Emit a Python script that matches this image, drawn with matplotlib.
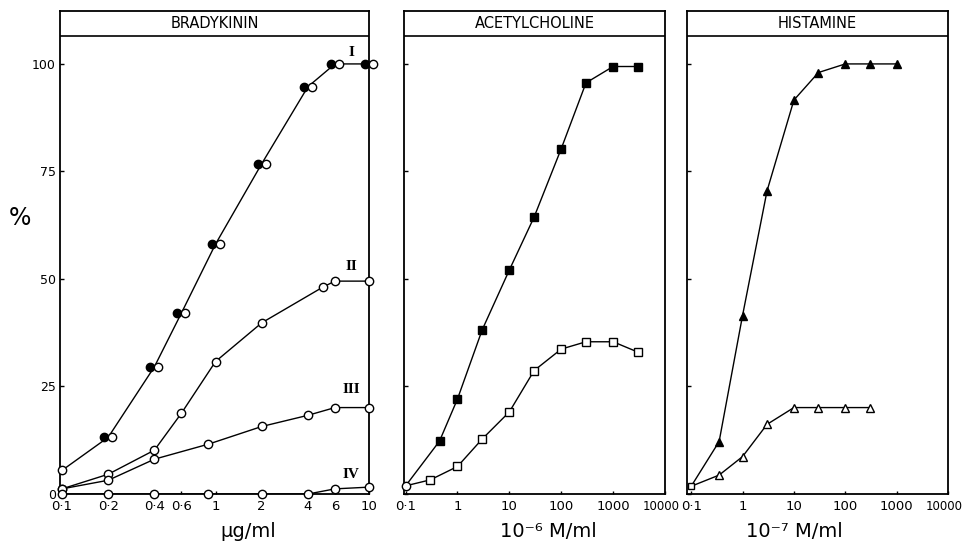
import numpy as np
import matplotlib
matplotlib.use("Agg")
import matplotlib.pyplot as plt
from matplotlib.transforms import offset_copy, ScaledTranslation

plt.rcParams['font.family'] = ['Liberation Sans Narrow', 'DejaVu Sans']

# ---- data ----
# bradykinin, ug/ml
brady_I_x = [0.1, 0.2, 0.4, 0.6, 1, 2, 4, 6, 10]
brady_I_y = [5.5, 13.2, 29.6, 42.1, 58.1, 76.8, 94.7, 100, 100]
brady_II_x = [0.1, 0.2, 0.4, 0.6, 1, 2, 5, 6, 10]
brady_II_y = [1.2, 4.6, 10.2, 18.8, 30.8, 39.8, 48.1, 49.5, 49.5]
brady_III_x = [0.1, 0.2, 0.4, 0.9, 2, 4, 6, 10]
brady_III_y = [1.2, 3.2, 8.1, 11.6, 15.7, 18.3, 20.1, 20.1]
brady_IV_x = [0.1, 0.2, 0.4, 0.9, 2, 4, 6, 10]
brady_IV_y = [0, 0, 0, 0, 0, 0, 1.2, 1.6]
brady_names = ['I', 'II', 'III', 'IV']

# acetylcholine, 10^-6 M/ml
ach_full_x = [0.1, 0.45, 1, 3, 10, 30, 100, 300, 1000, 3000]
ach_full_y = [1.9, 12.3, 22.1, 38.2, 52.1, 64.4, 80.3, 95.6, 99.4, 99.4]
ach_open_x = [0.1, 0.3, 1, 3, 10, 30, 100, 300, 1000, 3000]
ach_open_y = [1.9, 3.3, 6.4, 12.8, 19.1, 28.7, 33.7, 35.4, 35.4, 33.0]

# histamine, 10^-7 M/ml
his_full_x = [0.1, 0.35, 1, 3, 10, 30, 100, 300, 1000]
his_full_y = [1.8, 12.2, 41.5, 70.5, 91.6, 98.0, 100, 100, 100]
his_open_x = [0.1, 0.35, 1, 3, 10, 30, 100, 300]
his_open_y = [1.8, 4.4, 8.7, 16.2, 20.1, 20.1, 20.1, 20.1]

brady_ticks = [0.1, 0.2, 0.4, 0.6, 1, 2, 4, 6, 10]
brady_ticklabels = ['0·1', '0·2', '0·4', '0·6', '1', '2', '4', '6', '10']
dec_ticks = [0.1, 1, 10, 100, 1000, 10000]
dec_ticklabels = ['0·1', '1', '10', '100', '1000', '10000']
y_ticks = [0, 25, 50, 75, 100]

LW = 1.0
fig = plt.figure(figsize=(9.66, 5.43), dpi=100)


def setup(ax, title, xlim, ticks, labels, xlabel, xlabel_x):
    ax.set_xscale('log')
    ax.set_xlim(*xlim)
    ax.set_ylim(0, 112.3)
    ax.set_xticks(ticks)
    ax.set_xticklabels(labels)
    ax.minorticks_off()
    ax.set_yticks(y_ticks)
    for s in ax.spines.values():
        s.set_linewidth(1.3)
    ax.tick_params(axis='x', direction='in', length=2, width=1, labelsize=9.5, pad=4)
    ax.tick_params(axis='y', direction='in', length=3, width=1, labelsize=9, pad=3)
    ax.axhline(106.5, color='k', lw=1.2)
    ax.text(0.5, 0.975, title, transform=ax.transAxes, ha='center', va='center', fontsize=10.5)
    ax.text(xlabel_x, -0.078, xlabel, transform=ax.transAxes, ha='center', va='center', fontsize=14)


def squeeze_last(ax):
    # the 10000 label sits right at the panel edge, nudge it in a bit
    lab = ax.get_xticklabels()[-1]
    lab.set_fontsize(8.5)
    lab.set_transform(lab.get_transform() + ScaledTranslation(-4 / 100, 0, fig.dpi_scale_trans))


def line(ax, x, y):
    ax.plot(x, y, '-', color='k', lw=LW, zorder=2)


def marks(ax, x, y, marker, filled, ms=6, transform=None):
    kw = dict(ls='none', marker=marker, ms=ms, mec='k', mew=1,
              mfc='k' if filled else 'white', zorder=3, clip_on=False)
    if transform is not None:
        kw['transform'] = transform
    ax.plot(x, y, **kw)


# ---- bradykinin ----
ax1 = fig.add_axes([0.0621, 0.0902, 0.3199, 0.8895])
setup(ax1, 'BRADYKININ', (0.097, 10), brady_ticks, brady_ticklabels, 'μg/ml', 0.61)
ax1.set_yticklabels([str(v) for v in y_ticks])
ax1.text(-0.13, 0.571, '%', transform=ax1.transAxes, ha='center', va='center', fontsize=17)

left = offset_copy(ax1.transData, fig=fig, x=-4, y=0, units='dots')
right = offset_copy(ax1.transData, fig=fig, x=4, y=0, units='dots')
line(ax1, brady_I_x, brady_I_y)
marks(ax1, brady_I_x[:1], brady_I_y[:1], 'o', False)
marks(ax1, brady_I_x[1:], brady_I_y[1:], 'o', True, transform=left)
marks(ax1, brady_I_x[1:], brady_I_y[1:], 'o', False, transform=right)

for xs, ys in [(brady_II_x, brady_II_y), (brady_III_x, brady_III_y), (brady_IV_x, brady_IV_y)]:
    line(ax1, xs, ys)
    marks(ax1, xs, ys, 'o', False)

ends = [(brady_I_x, brady_I_y, 11), (brady_II_x, brady_II_y, 15),
        (brady_III_x, brady_III_y, 18), (brady_IV_x, brady_IV_y, 13)]
for name, (xs, ys, dy) in zip(brady_names, ends):
    ax1.annotate(name, xy=(xs[-1], ys[-1]), xytext=(-18, dy), textcoords='offset pixels',
                 ha='center', va='center', fontsize=11, fontweight='bold',
                 family=['Liberation Serif', 'DejaVu Serif'])

# ---- acetylcholine ----
ax2 = fig.add_axes([0.4182, 0.0902, 0.2702, 0.8895])
setup(ax2, 'ACETYLCHOLINE', (0.093, 10000), dec_ticks, dec_ticklabels, '10⁻⁶ M/ml', 0.552)
ax2.set_yticklabels([])
squeeze_last(ax2)
line(ax2, ach_full_x, ach_full_y)
line(ax2, ach_open_x, ach_open_y)
marks(ax2, ach_full_x[1:], ach_full_y[1:], 's', True, ms=5.5)
marks(ax2, ach_open_x[1:], ach_open_y[1:], 's', False, ms=5.5)
marks(ax2, ach_open_x[:1], ach_open_y[:1], 'o', False)

# ---- histamine ----
ax3 = fig.add_axes([0.7112, 0.0902, 0.2702, 0.8895])
setup(ax3, 'HISTAMINE', (0.083, 10000), dec_ticks, dec_ticklabels, '10⁻⁷ M/ml', 0.41)
ax3.set_yticklabels([])
squeeze_last(ax3)
line(ax3, his_full_x, his_full_y)
line(ax3, his_open_x, his_open_y)
marks(ax3, his_full_x[1:], his_full_y[1:], '^', True, ms=5.5)
marks(ax3, his_open_x[1:], his_open_y[1:], '^', False, ms=5.5)
marks(ax3, his_open_x[:1], his_open_y[:1], 's', False, ms=5)

fig.savefig('out.png', dpi=100)
